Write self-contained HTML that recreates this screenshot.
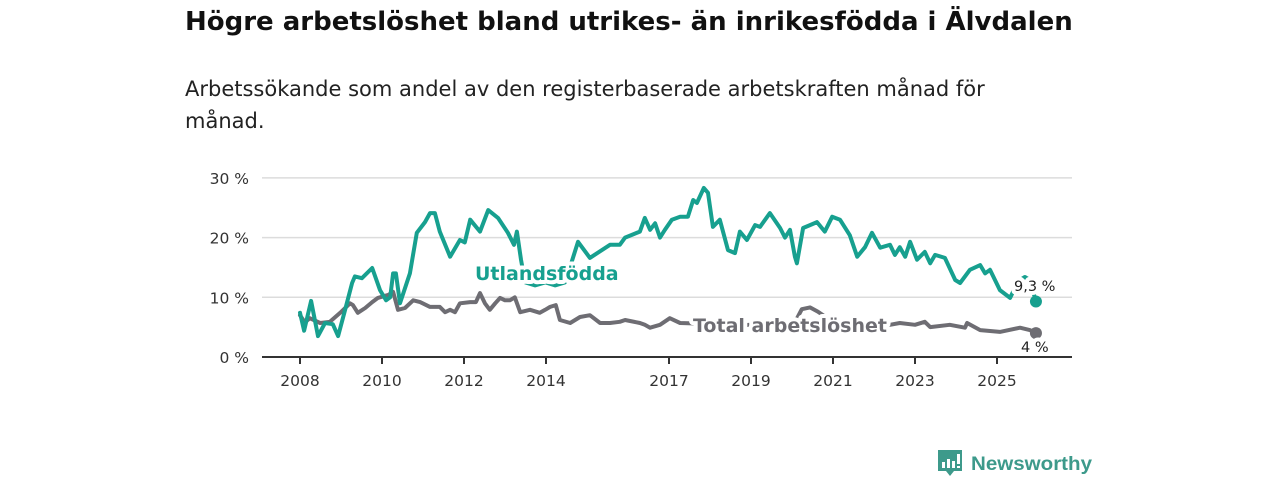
<!DOCTYPE html>
<html><head><meta charset="utf-8">
<style>
body{margin:0;background:#fff;width:1280px;height:480px;overflow:hidden;font-family:"DejaVu Sans","Liberation Sans",sans-serif;}
#title{position:absolute;left:185px;top:7px;font-size:26px;font-weight:bold;color:#111;margin:0;white-space:nowrap}
#sub{position:absolute;left:185px;top:73px;width:860px;font-size:21px;line-height:32px;color:#222;margin:0}
svg{position:absolute;left:0;top:0}
</style></head><body>
<h1 id="title">Högre arbetslöshet bland utrikes- än inrikesfödda i Älvdalen</h1>
<p id="sub">Arbetssökande som andel av den registerbaserade arbetskraften månad för månad.</p>
<svg id="chart" width="1280" height="480"></svg>
<script>
const yTicks=[0,10,20,30];
const xTicks=[2008,2010,2012,2014,2017,2019,2021,2023,2025];
const foreignYears=[2008.00,2008.10,2008.27,2008.44,2008.61,2008.80,2008.93,2009.10,2009.27,2009.34,2009.51,2009.76,2009.95,2010.10,2010.20,2010.27,2010.34,2010.44,2010.68,2010.85,2011.05,2011.17,2011.29,2011.41,2011.66,2011.90,2012.02,2012.15,2012.39,2012.59,2012.83,2013.07,2013.22,2013.29,2013.39,2013.49,2013.73,2013.98,2014.22,2014.46,2014.63,2014.78,2015.07,2015.56,2015.80,2015.93,2016.29,2016.41,2016.54,2016.66,2016.78,2016.90,2017.07,2017.27,2017.46,2017.59,2017.68,2017.85,2017.95,2018.07,2018.24,2018.44,2018.61,2018.73,2018.90,2019.10,2019.22,2019.46,2019.71,2019.83,2019.95,2020.07,2020.12,2020.27,2020.44,2020.61,2020.80,2020.98,2021.17,2021.41,2021.59,2021.78,2021.95,2022.15,2022.39,2022.51,2022.63,2022.76,2022.88,2023.05,2023.24,2023.37,2023.49,2023.73,2023.98,2024.10,2024.34,2024.59,2024.71,2024.83,2025.07,2025.32,2025.44,2025.56,2025.68,2025.80,2025.95];
const foreignValues=[7.4,4.4,9.4,3.5,5.7,5.5,3.5,7.9,12.4,13.5,13.2,14.9,11.2,9.5,10,14,14,9,14,20.8,22.6,24.1,24.1,21,16.8,19.6,19.2,23,21,24.6,23.3,20.8,18.8,21,16.3,12.5,12,12.5,12,12.5,16,19.3,16.6,18.8,18.8,20,21,23.3,21.3,22.4,20,21.3,23,23.5,23.5,26.3,25.8,28.3,27.5,21.8,23,17.9,17.4,21,19.6,22.1,21.8,24.1,21.6,20,21.3,16.8,15.7,21.6,22.1,22.6,21,23.5,23,20.4,16.8,18.4,20.8,18.3,18.8,17.1,18.4,16.8,19.3,16.3,17.6,15.7,17.1,16.6,12.9,12.4,14.6,15.4,14,14.6,11.2,9.9,11.6,12.9,13.4,12.9,9.3];
const totalYears=[2008.00,2008.12,2008.24,2008.49,2008.73,2008.98,2009.22,2009.29,2009.41,2009.59,2009.76,2009.90,2010.15,2010.27,2010.39,2010.56,2010.76,2010.93,2011.17,2011.41,2011.54,2011.66,2011.78,2011.90,2012.15,2012.29,2012.39,2012.51,2012.63,2012.76,2012.88,2013.00,2013.12,2013.24,2013.37,2013.61,2013.85,2013.98,2014.10,2014.24,2014.34,2014.59,2014.83,2015.07,2015.32,2015.56,2015.80,2015.93,2016.29,2016.41,2016.54,2016.78,2017.02,2017.27,2017.76,2018.24,2018.73,2019.22,2019.71,2020.07,2020.24,2020.44,2020.63,2020.93,2021.41,2021.90,2022.27,2022.39,2022.63,2023.00,2023.24,2023.37,2023.85,2024.22,2024.27,2024.59,2025.07,2025.56,2025.80,2025.95];
const totalValues=[7.0,5.8,6.5,5.7,5.9,7.4,9,8.7,7.4,8.2,9.2,9.9,10.4,10.9,7.9,8.2,9.5,9.2,8.4,8.4,7.5,7.9,7.5,9,9.2,9.2,10.7,9,7.9,9,9.9,9.5,9.5,10,7.5,7.9,7.4,7.9,8.4,8.7,6.2,5.7,6.7,7,5.7,5.7,5.9,6.2,5.7,5.4,4.9,5.4,6.5,5.7,5.6,5.8,5.3,5.5,6.0,5.8,8.0,8.3,7.6,6.2,5.9,5.6,5.5,5.4,5.7,5.4,5.9,5,5.4,4.9,5.7,4.5,4.2,4.9,4.5,4.0];

const svg=document.getElementById('chart');
const NS='http://www.w3.org/2000/svg';
const x=v=>300+(v-2008)*41;
const y=v=>357-v*5.97;
function mk(t,a,p){const e=document.createElementNS(NS,t);for(const k in a)e.setAttribute(k,a[k]);(p||svg).appendChild(e);return e;}
yTicks.forEach(t=>{
  if(t>0){const g=mk('line',{x1:262,x2:1072,y1:y(t),y2:y(t),stroke:'#dcdcdc','stroke-width':1.5});
  
  }
  const l=mk('text',{x:249,y:y(t)+6,'text-anchor':'end','font-size':15.5,fill:'#333'});
  l.textContent=t+' %';
  
  
});
const ax=mk('line',{x1:262,x2:1072,y1:357,y2:357,stroke:'#333','stroke-width':2});


xTicks.forEach(t=>{
  mk('line',{x1:x(t),x2:x(t),y1:357,y2:364,stroke:'#333','stroke-width':2});
  const l=mk('text',{x:x(t),y:386,'text-anchor':'middle','font-size':15.5,fill:'#333'});
  l.textContent=t;
  
  
});
function line(ys,vs,col,name){
  const d=ys.map((yr,i)=>(i?'L':'M')+x(yr).toFixed(1)+','+y(vs[i]).toFixed(1)).join('');
  const p=mk('path',{d:d,fill:'none',stroke:col,'stroke-width':4,'stroke-linejoin':'round','stroke-linecap':'round'});
  
  
  const n=ys.length-1;
  const c=mk('circle',{cx:x(ys[n]),cy:y(vs[n]),r:6,fill:col});
  
  
}
const TEAL='#17a08f',GRAY='#6e6d73';
line(totalYears,totalValues,GRAY,'total-line');
line(foreignYears,foreignValues,TEAL,'foreign-line');
function label(txt,xx,yy,col,size,weight,name){
  const t=mk('text',{x:xx,y:yy,'font-size':size,'font-weight':weight,fill:col,stroke:'#fff','stroke-width':8,'paint-order':'stroke','stroke-linejoin':'round'});
  t.textContent=txt;
  
  
}
label('Utlandsfödda',475,280,TEAL,19,'bold','foreign-series-label');
label('Total arbetslöshet',693,332,GRAY,19,'bold','total-series-label');
label('9,3 %',1014,291,'#222',14.5,'normal','foreign-end-value');
label('4 %',1021,352,'#222',14.5,'normal','total-end-value');
</script>
<svg width="1280" height="480">
  <path d="M938 450h24v21h-8l-4 5-4-5h-8z" fill="#3d9a8b"/>
  <rect x="942" y="462" width="3" height="6" fill="#fff"/>
  <rect x="947" y="459" width="3" height="9" fill="#fff"/>
  <rect x="952" y="461" width="3" height="7" fill="#fff"/>
  <rect x="957" y="454" width="3" height="10" fill="#fff"/>
  <rect x="957" y="466" width="3" height="2" fill="#fff"/>
  <text x="971" y="470" font-size="19.5" font-weight="bold" fill="#3d9a8b" font-family="Liberation Sans, sans-serif" textLength="121" lengthAdjust="spacingAndGlyphs">Newsworthy</text>
</svg>
</body></html>
